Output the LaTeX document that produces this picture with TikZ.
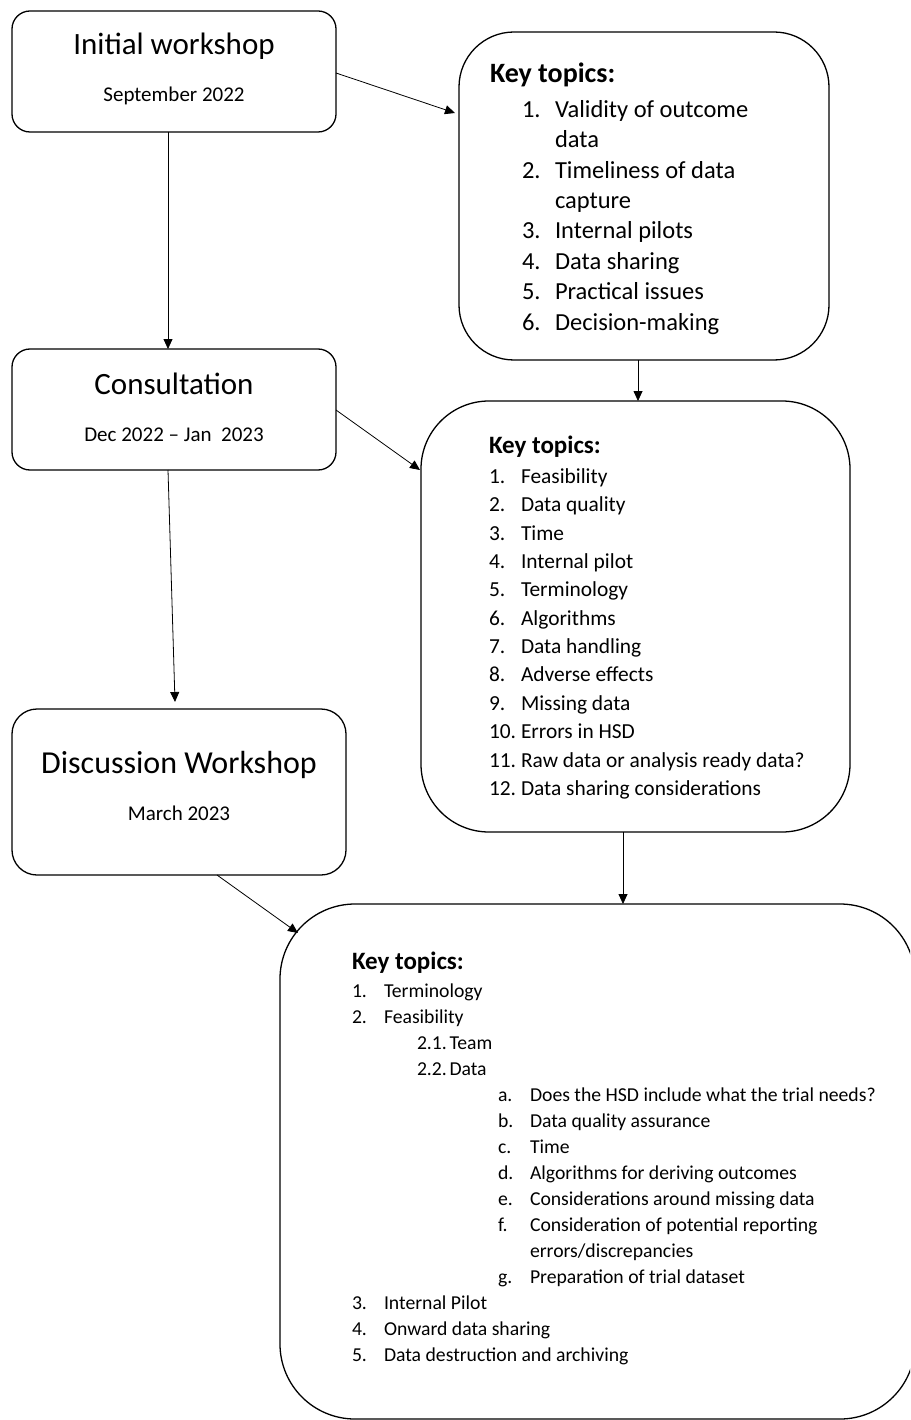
\documentclass[tikz,border=0pt]{standalone}
\usepackage{fontspec}
\setmainfont{Carlito}
\usetikzlibrary{arrows.meta,calc}
\newcommand\myfs[1]{\fontsize{#1}{#1}\selectfont}
\begin{document}
\begin{tikzpicture}[x=1pt,y=-1pt,
  box/.style={draw=black,line width=1.3pt,rectangle,inner sep=0pt,outer sep=0pt},
  arr/.style={draw=black,line width=0.8pt,-{Triangle[length=10pt,width=9pt]}},
  txt/.style={inner sep=0pt,outer sep=0pt,anchor=base west},
  ctr/.style={inner sep=0pt,outer sep=0pt,anchor=base},
  ttl/.style={ctr,font=\myfs{31}},
  dt/.style={ctr,font=\myfs{21}},
  ktB/.style={txt,font=\myfs{28}\bfseries},
  itB/.style={txt,font=\myfs{24.5}},
  ktD/.style={txt,font=\myfs{25}\bfseries},
  itD/.style={txt,font=\myfs{21.4}},
  ktF/.style={txt,font=\myfs{25}\bfseries},
  itF/.style={txt,font=\myfs{19.7}}]
\useasboundingbox (0,0) rectangle (910,1420);
\clip (0,0) rectangle (910,1420);
\fill[white] (0,0) rectangle (910,1420);

% boxes
\node[box,minimum width=324pt,minimum height=121pt,rounded corners=18pt] (A) at (174,71.5) {};
\node[box,minimum width=370pt,minimum height=328pt,rounded corners=55pt] (B) at (644,196) {};
\node[box,minimum width=324pt,minimum height=121pt,rounded corners=18pt] (C) at (174,409.5) {};
\node[box,minimum width=429pt,minimum height=431pt,rounded corners=68pt] (D) at (635.5,616.5) {};
\node[box,minimum width=334pt,minimum height=166pt,rounded corners=25pt] (E) at (179,792) {};
\node[box,minimum width=635pt,minimum height=515pt,rounded corners=75pt] (F) at (597.5,1161.5) {};

% connectors
\draw[arr] ([xshift=-6pt]A.south) -- ([xshift=-6pt]C.north);
\draw[arr] ([yshift=-1.5pt]A.east) -- ([xshift=-4pt,yshift=83pt]B.west);
\draw[arr] ([xshift=-6pt]B.south) -- ([xshift=2.5pt]D.north);
\draw[arr] ([yshift=-0.5pt]C.east) -- ([xshift=-1pt,yshift=146.5pt]D.west);
\draw[arr] ([xshift=-6pt]C.south) -- ([xshift=-4pt,yshift=7pt]E.north);
\draw[arr] ([xshift=-12.5pt]D.south) -- ([xshift=25.5pt]F.north);
\draw[arr] ([xshift=38pt]E.south) -- ([xshift=18pt,yshift=228.5pt]F.west);

% left boxes text
\node[ttl] (a1) at (174,55) {Initial workshop};
\node[dt] (a2) at (174,102) {September 2022};
\node[ttl] (c1) at (174,394) {Consultation};
\node[dt] (c2) at (174,441) {Dec 2022 – Jan\ \ 2023};
\node[ttl,font=\myfs{32}] (e1) at (179,773) {Discussion Workshop};
\node[dt] (e2) at (179,820) {March 2023};

% box B text
\node[ktB] (bk) at (490,83) {Key topics:};
\foreach \i/\n/\t in {0/1./Validity of outcome, 1//data, 2/2./Timeliness of data, 3//capture,
  4/3./Internal pilots, 5/4./Data sharing, 6/5./Practical issues, 7/6./Decision-making}{
  \node[itB] (bn\i) at (522,117.3+\i*30.4) {\n};
  \node[itB] (bt\i) at (555,117.3+\i*30.4) {\t};
}

% box D text
\node[ktD] (dk) at (489,453) {Key topics:};
\foreach \i/\n/\t in {0/1./Feasibility, 1/2./Data quality, 2/3./Time, 3/4./Internal pilot,
  4/5./Terminology, 5/6./Algorithms, 6/7./Data handling, 7/8./Adverse effects,
  8/9./Missing data, 9/10./Errors in HSD, 10/11./Raw data or analysis ready data?,
  11/12./Data sharing considerations}{
  \node[itD] (dn\i) at (489,483.3+\i*28.37) {\n};
  \node[itD] (dt\i) at (521,483.3+\i*28.37) {\t};
}

% box F text
\node[ktF] (fk) at (352,969) {Key topics:};
\foreach \i/\nx/\n/\tx/\t in {0/352/1./384/Terminology, 1/352/2./384/Feasibility,
  2/417/2.1./449.5/Team, 3/417/2.2./449.5/Data,
  4/498/a./530/Does the HSD include what the trial needs?,
  5/498/b./530/Data quality assurance, 6/498/c./530/Time,
  7/498/d./530/Algorithms for deriving outcomes,
  8/498/e./530/Considerations around missing data,
  9/498/f./530/Consideration of potential reporting,
  10/498//530/errors\slash discrepancies,
  11/498/g./530/Preparation of trial dataset,
  12/352/3./384/Internal Pilot, 13/352/4./384/Onward data sharing,
  14/352/5./384/Data destruction and archiving}{
  \node[itF] (fn\i) at (\nx,997+\i*26) {\n};
  \node[itF] (ft\i) at (\tx,997+\i*26) {\t};
}
\end{tikzpicture}
\end{document}
